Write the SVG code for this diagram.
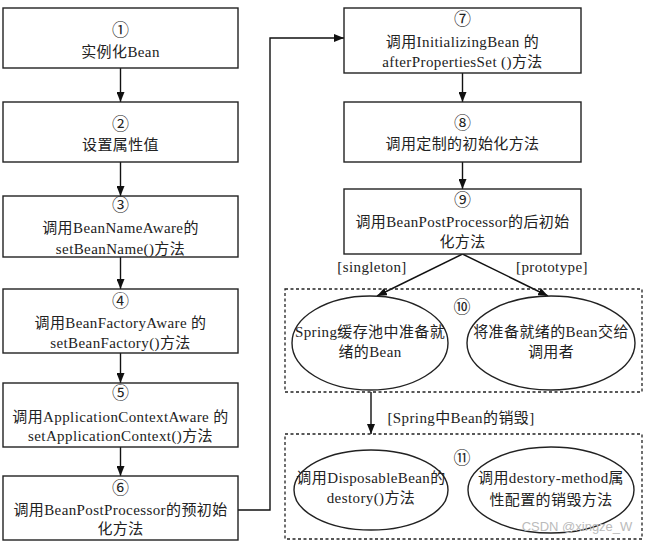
<svg xmlns="http://www.w3.org/2000/svg" width="647" height="543" viewBox="0 0 647 543">
<style>
.box{fill:#fff;stroke:#222;stroke-width:1.4}
.ell{fill:#fff;stroke:#222;stroke-width:1.4}
.dash{fill:none;stroke:#222;stroke-width:1.3;stroke-dasharray:3,2.5}
.ln{fill:none;stroke:#111;stroke-width:1.4}
text{font-family:"Liberation Serif","Noto Sans CJK SC",serif;font-size:15px;letter-spacing:0.4px;fill:#222;text-anchor:middle}
.num{font-size:17px;letter-spacing:0}
.wm{font-family:"Liberation Sans","Noto Sans CJK SC",sans-serif;font-size:13px;letter-spacing:0;fill:#bbb}
</style>
<defs>
<marker id="ah" viewBox="0 0 10 8" refX="10" refY="4" markerWidth="10" markerHeight="8" markerUnits="userSpaceOnUse" orient="auto">
<path d="M0,0 L10,4 L0,8 Z" fill="#111"/>
</marker>
</defs>
<rect width="647" height="543" fill="#fff"/>
<g id="connectors">
<line class="ln" x1="120.5" y1="68" x2="120.5" y2="102" marker-end="url(#ah)"/>
<line class="ln" x1="120.5" y1="162" x2="120.5" y2="196" marker-end="url(#ah)"/>
<line class="ln" x1="120.5" y1="257" x2="120.5" y2="289" marker-end="url(#ah)"/>
<line class="ln" x1="120.5" y1="353" x2="120.5" y2="383" marker-end="url(#ah)"/>
<line class="ln" x1="120.5" y1="447" x2="120.5" y2="476" marker-end="url(#ah)"/>
<polyline class="ln" points="238,510 270,510 270,38 344,38" marker-end="url(#ah)"/>
<line class="ln" x1="462.5" y1="73" x2="462.5" y2="102" marker-end="url(#ah)"/>
<line class="ln" x1="462.5" y1="162" x2="462.5" y2="189" marker-end="url(#ah)"/>
<line class="ln" x1="462.5" y1="254" x2="377" y2="296" marker-end="url(#ah)"/>
<line class="ln" x1="462.5" y1="254" x2="548" y2="296" marker-end="url(#ah)"/>
<line class="ln" x1="371" y1="392" x2="371" y2="434" marker-end="url(#ah)"/>
<text x="372" y="272">[singleton]</text>
<text x="552" y="272">[prototype]</text>
<text x="461" y="423">[Spring中Bean的销毁]</text>
</g>
<g id="n1"><rect class="box" x="3" y="8" width="235" height="60"/><text class="num" x="120.5" y="36">①</text><text x="120.5" y="57">实例化Bean</text></g>
<g id="n2"><rect class="box" x="3" y="102" width="235" height="60"/><text class="num" x="120.5" y="130">②</text><text x="120.5" y="150">设置属性值</text></g>
<g id="n3"><rect class="box" x="3" y="196" width="235" height="61"/><text class="num" x="120.5" y="211">③</text><text x="120.5" y="233">调用BeanNameAware的</text><text x="120.5" y="254">setBeanName()方法</text></g>
<g id="n4"><rect class="box" x="3" y="289" width="235" height="64"/><text class="num" x="120.5" y="307">④</text><text x="120.5" y="328">调用BeanFactoryAware 的</text><text x="120.5" y="348">setBeanFactory()方法</text></g>
<g id="n5"><rect class="box" x="3" y="383" width="235" height="64"/><text class="num" x="120.5" y="399">⑤</text><text x="120.5" y="422">调用ApplicationContextAware 的</text><text x="120.5" y="441">setApplicationContext()方法</text></g>
<g id="n6"><rect class="box" x="3" y="476" width="235" height="64"/><text class="num" x="120.5" y="494">⑥</text><text x="120.5" y="515">调用BeanPostProcessor的预初始</text><text x="120.5" y="534">化方法</text></g>
<g id="n7"><rect class="box" x="344" y="8" width="237" height="65"/><text class="num" x="462.5" y="25">⑦</text><text x="462.5" y="47">调用InitializingBean 的</text><text x="462.5" y="67">afterPropertiesSet ()方法</text></g>
<g id="n8"><rect class="box" x="344" y="102" width="237" height="60"/><text class="num" x="462.5" y="129">⑧</text><text x="462.5" y="149">调用定制的初始化方法</text></g>
<g id="n9"><rect class="box" x="344" y="189" width="237" height="65"/><text class="num" x="462.5" y="206">⑨</text><text x="462.5" y="227">调用BeanPostProcessor的后初始</text><text x="462.5" y="247">化方法</text></g>
<g id="n10"><rect class="dash" x="285" y="289" width="357" height="103"/><text class="num" x="462" y="313">⑩</text>
<ellipse class="ell" cx="370" cy="343" rx="78" ry="47"/><text x="370" y="337">Spring缓存池中准备就</text><text x="370" y="357">绪的Bean</text>
<ellipse class="ell" cx="551" cy="343" rx="84" ry="47"/><text x="551" y="337">将准备就绪的Bean交给</text><text x="551" y="357">调用者</text></g>
<g id="n11"><rect class="dash" x="285" y="434" width="357" height="105"/><text class="num" x="462" y="464">⑪</text>
<ellipse class="ell" cx="371" cy="490" rx="77" ry="40"/><text x="371" y="483">调用DisposableBean的</text><text x="371" y="503">destory()方法</text>
<ellipse class="ell" cx="551" cy="490" rx="83" ry="43"/><text x="551" y="483">调用destory-method属</text><text x="551" y="505">性配置的销毁方法</text></g>
<text class="wm" x="577" y="531">CSDN @xingze_W</text>
</svg>
